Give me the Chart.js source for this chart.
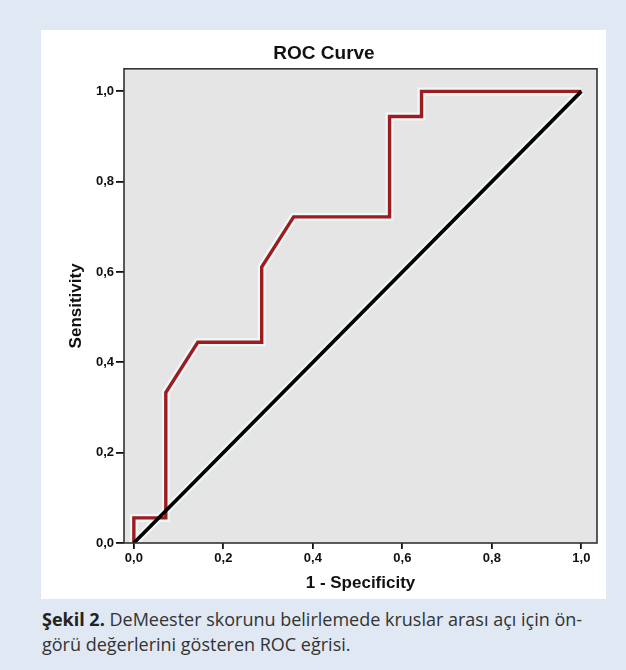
<!DOCTYPE html>
<html>
<head>
<meta charset="utf-8">
<script src="https://cdn.jsdelivr.net/npm/chart.js@4/dist/chart.umd.min.js"></script>
<style>
  html, body { margin: 0; padding: 0; }
  body { width: 626px; height: 670px; background: #dfe8f3; position: relative; overflow: hidden; }
  #panel { position: absolute; left: 41px; top: 30px; width: 565px; height: 569px; background: #ffffff; }
  #panel canvas { display: block; }
  #caption { position: absolute; left: 42px; top: 607px; width: 584px; white-space: nowrap; font-family: "Open Sans", "Noto Sans", sans-serif; font-size: 18px; letter-spacing: 0px; line-height: 25px; color: #333333; }
  #caption b { color: #222222; font-weight: 700; }
</style>
</head>
<body>
<div id="panel"><canvas id="c" width="565" height="569"></canvas></div>
<div id="caption"><b>Şekil 2.</b> DeMeester skorunu belirlemede kruslar arası açı için ön-<br>görü değerlerini gösteren ROC eğrisi.</div>
<script>
// ROC curve points (1 - Specificity, Sensitivity)
const rocFpr = [0, 0, 0.0714, 0.0714, 0.1429, 0.2857, 0.2857, 0.3571, 0.5714, 0.5714, 0.6429, 0.6429, 1.0];
const rocTpr = [0, 0.0556, 0.0556, 0.3333, 0.4444, 0.4444, 0.6111, 0.7222, 0.7222, 0.9444, 0.9444, 1.0, 1.0];
// reference diagonal
const refX = [0, 1];
const refY = [0, 1];
// tick labels
const xTickValues = [0, 0.2, 0.4, 0.6, 0.8, 1.0];
const yTickValues = [0, 0.2, 0.4, 0.6, 0.8, 1.0];
const chartTitle = 'ROC Curve';
const xTitle = '1 - Specificity';
const yTitle = 'Sensitivity';

const rocPoints = rocFpr.map((x, i) => ({ x: x, y: rocTpr[i] }));
const refPoints = refX.map((x, i) => ({ x: x, y: refY[i] }));
const fmt = v => v.toFixed(1).replace('.', ',');

const plotFrame = {
  id: 'plotFrame',
  beforeDraw(chart) {
    const { ctx, chartArea: a } = chart;
    ctx.save();
    ctx.fillStyle = '#e5e5e5';
    ctx.fillRect(a.left, a.top, a.right - a.left, a.bottom - a.top);
    ctx.restore();
  },
  afterDraw(chart) {
    const { ctx, chartArea: a } = chart;
    ctx.save();
    ctx.strokeStyle = '#333333';
    ctx.lineWidth = 1.6;
    ctx.strokeRect(a.left, a.top, a.right - a.left, a.bottom - a.top);
    ctx.restore();
  }
};

const tickFont = { family: '"Liberation Sans", Arial, sans-serif', size: 13, weight: 'bold' };
const titleFont = { family: '"Liberation Sans", Arial, sans-serif', size: 17, weight: 'bold' };

new Chart(document.getElementById('c'), {
  type: 'line',
  data: {
    datasets: [
      { data: refPoints, borderColor: '#000000', borderWidth: 3.6, pointRadius: 0, tension: 0 },
      { data: rocPoints, borderColor: '#9e1b1f', borderWidth: 3.4, pointRadius: 0, tension: 0 },
      { data: refPoints, borderColor: 'rgba(240,250,250,0.9)', borderWidth: 8, pointRadius: 0, tension: 0 },
      { data: rocPoints, borderColor: 'rgba(240,250,250,0.9)', borderWidth: 8, pointRadius: 0, tension: 0 }
    ]
  },
  plugins: [plotFrame],
  options: {
    responsive: false,
    animation: false,
    devicePixelRatio: 1,
    layout: { padding: { left: 10, right: 9, top: 0, bottom: 0 } },
    plugins: {
      legend: { display: false },
      tooltip: { enabled: false },
      title: {
        display: true,
        text: chartTitle,
        color: '#111111',
        font: { family: '"Liberation Sans", Arial, sans-serif', size: 19, weight: 'bold' },
        padding: { top: 12, bottom: 4 }
      }
    },
    scales: {
      x: {
        type: 'linear',
        min: -0.022,
        max: 1.035,
        afterBuildTicks: s => { s.ticks = xTickValues.map(v => ({ value: v })); },
        afterFit: s => { s.height = 56; },
        ticks: { callback: v => fmt(v), color: '#111111', font: tickFont, padding: 2, maxRotation: 0, autoSkip: false },
        grid: { drawOnChartArea: false, drawTicks: true, tickLength: 6, color: '#111111', lineWidth: 1.8 },
        border: { display: false },
        title: { display: true, text: xTitle, color: '#111111', font: titleFont, padding: { top: 0, bottom: 5 } }
      },
      y: {
        type: 'linear',
        min: 0,
        max: 1.05,
        afterBuildTicks: s => { s.ticks = yTickValues.map(v => ({ value: v })); },
        afterFit: s => { s.width = 73; },
        ticks: { callback: v => fmt(v), color: '#111111', font: tickFont, padding: 2, autoSkip: false },
        grid: { drawOnChartArea: false, drawTicks: true, tickLength: 8, color: '#111111', lineWidth: 1.8 },
        border: { display: false },
        title: { display: true, text: yTitle, color: '#111111', font: titleFont, padding: { top: 15, bottom: 0 } }
      }
    }
  }
});
</script>
</body>
</html>
